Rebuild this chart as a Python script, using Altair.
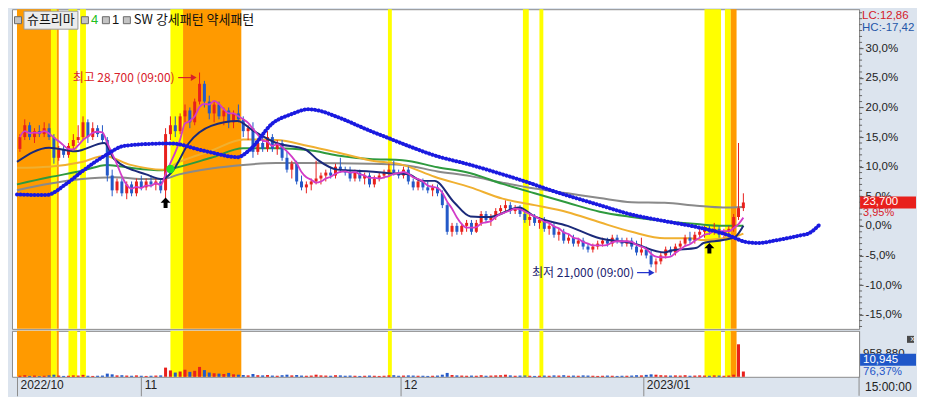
import altair as alt
import pandas as pd

# ---------------- data (percent vs. base price 22,800) ----------------
opens = [
    13.0, 15.0, 17.0, 15.0, 16.0, 15.5, 16.5, 15.0, 11.5, 13.0,
    12.0, 13.5, 14.5, 15.0, 17.5, 15.0, 16.5, 15.5, 14.5, 8.5,
    6.0, 7.5, 5.5, 7.0, 5.5, 7.5, 6.5, 7.5, 7.0, 7.5,
    6.0, 15.5, 17.0, 16.0, 18.5, 19.5, 17.5, 21.0, 24.0, 21.0,
    19.0, 20.5, 18.5, 19.5, 17.5, 19.0, 18.0, 16.0, 16.5, 12.5,
    14.0, 13.0, 15.0, 13.0, 14.0, 11.5, 9.5, 10.5, 7.5, 6.5,
    7.0, 7.5, 8.0, 8.5, 9.0, 8.5, 10.0, 9.5, 9.0, 8.0,
    9.0, 8.0, 8.5, 7.0, 8.0, 8.5, 9.0, 9.5, 9.0, 8.5,
    9.5, 7.5, 6.5, 7.5, 6.5, 6.0, 6.5, 5.5, 3.5, -1.0,
    0.0, -1.0, 0.0, 0.5, -1.0, 0.5, 2.0, 1.0, 1.5, 2.5,
    3.0, 3.5, 2.5, 3.0, 2.0, 1.0, 1.5, 0.5, 1.0, -0.5,
    0.0, -1.5, -1.0, -2.5, -2.0, -3.0, -2.5, -3.5, -4.0, -3.5,
    -3.0, -2.5, -3.0, -2.0, -2.5, -3.0, -2.5, -3.5, -4.5, -4.0,
    -5.0, -6.5, -6.0, -5.0, -4.0, -4.5, -3.5, -3.0, -2.0, -2.5,
    -1.5, -1.0, -0.5, -1.0, -0.5, -1.5, -1.0, -0.5, 1.5, 3.0,
]
highs = [
    15.5, 18.0, 17.5, 16.5, 17.0, 17.5, 17.3, 15.5, 13.5, 13.5,
    14.0, 15.5, 17.0, 18.5, 18.0, 17.5, 17.0, 17.0, 15.0, 9.5,
    8.0, 8.0, 7.5, 7.5, 8.0, 8.5, 8.0, 8.5, 8.0, 8.0,
    16.5, 18.5, 18.5, 19.0, 20.5, 20.0, 21.5, 25.9, 24.5, 22.0,
    21.0, 21.0, 20.0, 20.0, 19.5, 20.5, 18.5, 17.0, 17.5, 14.5,
    15.5, 16.0, 15.5, 14.5, 14.5, 12.5, 11.0, 11.0, 8.5, 7.5,
    8.0, 11.0, 9.0, 9.5, 10.0, 10.5, 11.5, 10.0, 10.0, 9.5,
    9.5, 9.0, 9.0, 8.5, 9.0, 9.5, 10.5, 11.0, 9.5, 10.0,
    10.0, 8.0, 8.0, 8.0, 7.5, 7.0, 7.0, 6.0, 4.0, 0.5,
    0.5, 0.5, 1.0, 1.0, 1.0, 2.5, 2.5, 2.0, 3.0, 3.5,
    4.3, 4.0, 3.5, 3.5, 2.5, 2.0, 2.0, 1.5, 1.5, 0.5,
    0.5, -0.5, -0.5, -1.5, -1.5, -2.0, -2.0, -3.0, -3.0, -2.5,
    -2.0, -2.0, -1.5, -1.5, -2.0, -2.0, -2.0, -2.5, -2.0, -3.5,
    -4.0, -5.5, -4.5, -3.5, -3.5, -3.0, -2.5, -1.5, -1.0, -1.0,
    -0.5, 0.0, 0.0, 0.5, 0.0, -0.5, 0.0, 2.0, 14.0, 5.5,
]
lows = [
    12.5, 14.5, 14.5, 14.0, 15.0, 15.0, 14.5, 10.5, 11.0, 11.5,
    11.5, 13.0, 14.0, 14.5, 14.0, 14.5, 15.0, 14.0, 7.5, 5.0,
    5.5, 5.0, 4.5, 5.0, 5.0, 6.0, 6.0, 6.5, 6.0, 5.5,
    4.5, 14.5, 15.0, 15.5, 17.5, 16.5, 17.0, 20.5, 20.0, 18.0,
    17.5, 18.0, 17.0, 16.5, 16.5, 17.5, 15.0, 14.5, 11.5, 12.0,
    12.5, 12.5, 12.5, 12.0, 11.0, 9.0, 8.0, 7.0, 6.0, 5.5,
    6.0, 7.0, 7.0, 7.5, 8.0, 8.0, 9.0, 8.5, 7.5, 7.5,
    7.5, 7.0, 6.5, 6.5, 7.5, 8.0, 8.5, 8.5, 8.0, 8.0,
    7.0, 6.0, 6.0, 6.0, 5.5, 5.0, 5.0, 3.0, -1.5, -1.8,
    -1.5, -1.5, -1.0, -1.5, -1.2, 0.0, 0.5, 0.0, 1.0, 2.0,
    2.5, 2.0, 2.0, 1.5, 0.5, 0.0, 0.0, -0.5, -1.0, -1.5,
    -2.0, -2.5, -3.0, -3.0, -3.5, -3.5, -4.0, -4.5, -4.5, -4.0,
    -3.5, -3.5, -3.5, -3.0, -3.5, -3.5, -4.0, -5.0, -5.0, -5.5,
    -7.0, -7.9, -6.5, -5.5, -5.0, -5.0, -4.0, -3.5, -3.0, -3.0,
    -2.0, -2.0, -1.5, -1.5, -2.0, -2.0, -1.5, -1.0, 1.0, 2.5,
]
closes = [
    15.0, 17.0, 15.0, 16.0, 15.5, 16.5, 15.0, 11.5, 13.0, 12.0,
    13.5, 14.5, 15.0, 17.5, 15.0, 16.5, 15.5, 14.5, 8.5, 6.0,
    7.5, 5.5, 7.0, 5.5, 7.5, 6.5, 7.5, 7.0, 7.5, 6.0,
    15.5, 17.0, 16.0, 18.5, 19.5, 17.5, 21.0, 24.0, 21.0, 19.0,
    20.5, 18.5, 19.5, 17.5, 19.0, 18.0, 16.0, 16.5, 12.5, 14.0,
    13.0, 15.0, 13.0, 14.0, 11.5, 9.5, 10.5, 7.5, 6.5, 7.0,
    7.5, 8.0, 8.5, 9.0, 8.5, 10.0, 9.5, 9.0, 8.0, 9.0,
    8.0, 8.5, 7.0, 8.0, 8.5, 9.0, 9.5, 9.0, 8.5, 9.5,
    7.5, 6.5, 7.5, 6.5, 6.0, 6.5, 5.5, 3.5, -1.0, 0.0,
    -1.0, 0.0, 0.5, -1.0, 0.5, 2.0, 1.0, 1.5, 2.5, 3.0,
    3.5, 2.5, 3.0, 2.0, 1.0, 1.5, 0.5, 1.0, -0.5, 0.0,
    -1.5, -1.0, -2.5, -2.0, -3.0, -2.5, -3.5, -4.0, -3.5, -3.0,
    -2.5, -3.0, -2.0, -2.5, -3.0, -2.5, -3.5, -4.5, -4.0, -5.0,
    -6.5, -6.0, -5.0, -4.0, -4.5, -3.5, -3.0, -2.0, -2.5, -1.5,
    -1.0, -0.5, -1.0, -0.5, -1.5, -1.0, -0.5, 1.5, 3.0, 3.95,
]
volumes = [  # thousand shares
    30, 45, 25, 35, 20, 30, 40, 60, 35, 25,
    30, 40, 35, 55, 30, 25, 30, 35, 90, 70,
    40, 45, 35, 30, 40, 30, 25, 30, 35, 40,
    260, 180, 120, 150, 200, 140, 170, 280, 190, 120,
    100, 90, 80, 110, 70, 60, 50, 40, 80, 45,
    40, 50, 35, 30, 45, 60, 40, 50, 35, 30,
    35, 60, 40, 35, 30, 45, 40, 30, 35, 30,
    25, 30, 35, 30, 25, 30, 40, 45, 30, 35,
    40, 35, 30, 30, 25, 30, 35, 60, 110, 50,
    40, 35, 30, 35, 30, 45, 30, 35, 40, 45,
    60, 40, 30, 35, 40, 30, 25, 30, 35, 30,
    40, 35, 45, 30, 35, 30, 40, 35, 30, 25,
    30, 35, 30, 25, 30, 30, 35, 45, 40, 55,
    70, 60, 45, 40, 35, 40, 35, 45, 30, 35,
    40, 35, 30, 40, 35, 30, 35, 60, 920, 150,
]

# moving averages (bar index, percent)
navy_i = [-0.6, 6, 11.4, 17.4, 19.4, 26, 29.4, 31.4, 34.8, 39.4, 44.8, 48, 52.8, 58.8, 61.4, 65.4,
          72, 76, 80, 82.8, 85.4, 89.4, 92.8, 96.8, 102.8, 106, 112.8, 119.4, 126, 132.8, 134,
          139.4, 140.8, 144.8, 147.4, 149]
navy_v = [10.8, 13.2, 12.6, 14.0, 11.3, 8.7, 7.9, 9.2, 14.0, 16.9, 17.7, 16.1, 14.0, 12.9, 11.1, 9.5,
          9.2, 8.9, 8.7, 7.6, 7.6, 4.0, 1.6, 1.5, 3.1, 1.6, 0.0, -2.1, -2.9, -4.5, -4.2,
          -3.7, -2.9, -2.4, -1.8, 0.0]
orange_i = [-0.6, 6, 12.8, 17.4, 22.8, 29.4, 32.8, 39.4, 46, 52.8, 59.4, 65.4, 72, 78.8, 85.4,
            92.8, 99.4, 106, 112.8, 119.4, 126, 132.8, 138, 140.8, 144.8, 147.4, 149]
orange_v = [9.8, 10.0, 10.8, 11.8, 10.3, 9.5, 10.8, 12.7, 14.6, 14.5, 13.5, 12.4, 11.1, 10.3, 8.3,
            6.5, 4.6, 3.5, 2.3, 0.6, -1.0, -2.1, -2.1, -2.4, -2.1, -1.8, -1.3]
green_i = [-0.6, 6, 12.8, 18, 22.8, 29.4, 31.4, 39.4, 46, 52.8, 59.4, 65.4, 72, 78.8, 86, 92.8,
           99.4, 106, 112.8, 119.4, 126, 132.8, 139.4, 144.8, 149]
green_v = [7.0, 8.2, 9.3, 10.3, 9.8, 9.4, 9.7, 11.5, 13.1, 13.1, 12.8, 11.9, 11.3, 11.1, 9.9, 8.9,
           7.1, 5.5, 3.9, 2.4, 1.5, 0.8, 0.3, 0.0, 0.0]
gray_i = [-0.6, 6, 12.8, 19.4, 26, 29.4, 32.8, 39.4, 46, 52.8, 59.4, 72, 78.8, 86, 92.8, 99.4, 106,
          112.8, 119.4, 126, 132.8, 139.4, 144.8, 149]
gray_v = [6.0, 7.1, 7.9, 8.2, 7.9, 7.9, 8.7, 9.7, 10.3, 10.6, 10.6, 10.5, 10.3, 9.2, 8.4, 7.3, 6.3,
          5.5, 4.7, 4.0, 3.9, 3.4, 3.1, 3.2]
blue_i = [-0.6, 5.4, 9.4, 12.8, 18, 21.4, 29.4, 31.4, 36.8, 39.4, 44.8, 47.4, 52, 56, 59.4, 61.4,
          65.4, 72, 76, 80, 85.4, 92.8, 99.4, 104.8, 109.4, 119.4, 126, 132.8, 139.4, 146, 149.4,
          152, 156, 160.8, 162.4, 164.8]
blue_v = [5.3, 5.2, 7.0, 9.2, 12.1, 13.5, 13.9, 13.9, 12.9, 12.4, 11.6, 12.9, 17.3, 18.9, 19.7, 19.5,
          18.4, 16.1, 14.8, 13.5, 11.9, 10.3, 8.7, 7.3, 6.0, 3.5, 1.9, 0.8, -0.2, -1.6, -2.7,
          -2.9, -2.4, -1.6, -1.3, 0.3]

# pattern-signal bands (bar index)
band_start = [-0.6, 6.4, 7.6, 10.0, 12.4, 31.0, 33.6, 75.8, 103.6, 107.0, 141.0, 145.2, 146.4]
band_end = [6.4, 7.6, 8.0, 11.8, 13.6, 33.6, 45.6, 76.6, 104.8, 107.8, 144.4, 146.4, 147.6]
band_kind = ["orange", "yellow", "orange", "yellow", "yellow", "yellow", "orange", "yellow",
             "yellow", "yellow", "yellow", "yellow", "orange"]

signal_i = [30, 142]
signal_v = [3.9, -3.8]
cross_i = [31]
cross_v = [9.6]

hi_i, hi_v, hi_label = [37], [25.9], ["최고 28,700 (09:00)"]
lo_i, lo_v, lo_label = [131], [-7.9], ["최저 21,000 (09:00)"]

month_pos = [-0.6, 25, 78.4, 128.4]
month_labels = ["2022/10", "11", "12", "2023/01"]
y_ticks = [-15, -10, -5, 0, 5, 10, 15, 20, 25, 30]

last_price = ["23,700"]
last_pct = ["3,95%"]
lc_text, hc_text = "LC:12,86", "HC:-17,42"
vol_max_text, vol_last_text, vol_pct_text = "958,880", "10,945", "76,37%"
time_text = "15:00:00"

# ---------------- styling ----------------
W, H1, H2 = 848, 320, 46
FONT = "Liberation Sans Narrow, Liberation Sans, Noto Sans CJK KR, sans-serif"
KFONT = "Noto Sans CJK KR, Liberation Sans, sans-serif"
RED, BLUE = "#e8201c", "#2459c8"
NAVY, BLUE_T = "#1b2a7a", "#1a1ae0"
ORANGE_MA, GREEN_MA, GRAY_MA, PINK = "#f0b030", "#2e9a3e", "#8a8a8a", "#d23cc8"
BAND_OR, BAND_YE = "#ff9a00", "#ffff00"
BG = "#dce4ee"

bars = pd.DataFrame({"i": list(range(len(closes))), "open": opens, "high": highs,
                     "low": lows, "close": closes, "volume": volumes})
bands = pd.DataFrame({"start": band_start, "end": band_end, "kind": band_kind})

xs = alt.Scale(domain=[-0.6, 171.8], nice=False, zero=False)
ys = alt.Scale(domain=[-17.4, 36.6], nice=False, zero=False)
vs = alt.Scale(domain=[0, 1300], nice=False, zero=True)

ylabel = ("(datum.value < 0 ? '-' : '') + replace(format(abs(datum.value), '.1f'), '.', ',') + '%'")
yax = alt.Axis(orient="right", values=y_ticks, labelExpr=ylabel, tickSize=4, tickColor="#555",
               domainColor="#8c8c8c", labelColor="#222", labelFont=FONT, labelFontSize=11.5,
               labelPadding=2, grid=False, title=None)


def X(f):
    return alt.X(f"{f}:Q", scale=xs, axis=None, title=None)


def Y(f):
    return alt.Y(f"{f}:Q", scale=ys, axis=yax, title=None)


ccol = alt.condition("datum.close >= datum.open", alt.value(RED), alt.value(BLUE))
bcol = alt.condition("datum.kind == 'orange'", alt.value(BAND_OR), alt.value(BAND_YE))


def ma_line(ii, vv, color, width):
    df = pd.DataFrame({"i": ii, "v": vv})
    return alt.Chart(df).mark_line(color=color, strokeWidth=width, interpolate="monotone").encode(
        x=X("i"), y=Y("v"))


one = pd.DataFrame({"k": [0]})

bands_main = alt.Chart(bands).mark_rect().encode(
    x=X("start"), x2="end", y=alt.value(0), y2=alt.value(H1), color=bcol)

wick = alt.Chart(bars).mark_rule(strokeWidth=1).encode(x=X("i"), y=Y("low"), y2="high", color=ccol)
body = alt.Chart(bars).mark_bar(size=3).encode(x=X("i"), y=Y("open"), y2="close", color=ccol)
pink = alt.Chart(bars).transform_window(
    ma5="mean(close)", frame=[-4, 0], sort=[alt.SortField("i")]
).mark_line(color=PINK, strokeWidth=1.8, interpolate="monotone").encode(x=X("i"), y=Y("ma5"))

blue_df = pd.DataFrame({"i": blue_i, "v": blue_v})
blue_line = alt.Chart(blue_df).mark_line(color=BLUE_T, strokeWidth=1.8, interpolate="monotone").encode(
    x=X("i"), y=Y("v"))
blue_dots = alt.Chart(blue_df).mark_line(color=BLUE_T, strokeWidth=4.0, strokeDash=[0.1, 3.4],
                                         strokeCap="round", interpolate="monotone").encode(x=X("i"), y=Y("v"))

cross = alt.Chart(pd.DataFrame({"i": cross_i, "v": cross_v})).mark_circle(
    size=70, color="#22e022", opacity=1).encode(x=X("i"), y=Y("v"))
ARROW = "M0,-1L0.95,0L0.38,0L0.38,1L-0.38,1L-0.38,0L-0.95,0Z"
signals = alt.Chart(pd.DataFrame({"i": signal_i, "v": signal_v})).mark_point(
    shape=ARROW, filled=True, color="black", opacity=1, size=110).encode(x=X("i"), y=Y("v"))

hi_df = pd.DataFrame({"i": hi_i, "v": hi_v, "label": hi_label})
lo_df = pd.DataFrame({"i": lo_i, "v": lo_v, "label": lo_label})
hi_text = alt.Chart(hi_df).mark_text(align="right", baseline="middle", dx=-25, dy=5, color="#d8202a",
                                     font=KFONT, fontSize=12).encode(x=X("i"), y=Y("v"), text="label:N")
hi_arrow = alt.Chart(hi_df).transform_calculate(a0="datum.i - 4.4", a1="datum.i - 1.2", ay="datum.v - 0.85")
hi_rule = hi_arrow.mark_rule(color="#d8202a", strokeWidth=1.2).encode(x=X("a0"), x2="a1", y=Y("ay"))
hi_head = hi_arrow.mark_point(shape="triangle-right", filled=True, size=45, color="#d8202a",
                              opacity=1).encode(x=X("a1"), y=Y("ay"))
lo_text = alt.Chart(lo_df).mark_text(align="right", baseline="middle", dx=-22, dy=0, color="#1c2470",
                                     font=KFONT, fontSize=12).encode(x=X("i"), y=Y("v"), text="label:N")
lo_arrow = alt.Chart(lo_df).transform_calculate(a0="datum.i - 3.9", a1="datum.i - 0.9")
lo_rule = lo_arrow.mark_rule(color="#2233cc", strokeWidth=1.2).encode(x=X("a0"), x2="a1", y=Y("v"))
lo_head = lo_arrow.mark_point(shape="triangle-right", filled=True, size=45, color="#2233cc",
                              opacity=1).encode(x=X("a1"), y=Y("v"))

minor = alt.Chart(pd.DataFrame({"t": list(range(-17, 37))})).mark_rule(color="#666").encode(
    x=alt.value(W), x2=alt.value(W + 3), y=Y("t"))

last_df = pd.DataFrame({"v": [closes[-1]], "p": last_price, "q": last_pct})
price_box = alt.Chart(last_df).mark_tick(orient="horizontal", size=56, thickness=12, color=RED,
                                         opacity=1).encode(x=alt.value(W + 29), y=Y("v"))
price_txt = alt.Chart(last_df).mark_text(align="left", baseline="middle", color="white", font=FONT,
                                         fontSize=11.5).encode(x=alt.value(W + 4), y=Y("v"), text="p:N")
pct_txt = alt.Chart(last_df).mark_text(align="left", baseline="middle", dy=11, color="#d8202a", font=FONT,
                                       fontSize=11).encode(x=alt.value(W + 4), y=Y("v"), text="q:N")


def label(txt, x, y, color="#111", size=11.5, font=FONT, align="left"):
    return alt.Chart(one).mark_text(align=align, baseline="middle", color=color, fontSize=size,
                                    font=font).encode(x=alt.value(x), y=alt.value(y), text=alt.value(txt))


def square(x, y, s=7):
    return alt.Chart(one).mark_rect(fill="#c4c4c4", stroke="#6a6a6a", strokeWidth=1).encode(
        x=alt.value(x - s / 2), x2=alt.value(x + s / 2), y=alt.value(y - s / 2), y2=alt.value(y + s / 2))


legend_box = alt.Chart(one).mark_rect(fill="#ececec", stroke="#9a9a9a", strokeWidth=1).encode(
    x=alt.value(12), x2=alt.value(66), y=alt.value(2), y2=alt.value(20))

main = alt.layer(
    bands_main,
    ma_line(gray_i, gray_v, GRAY_MA, 2),
    ma_line(green_i, green_v, GREEN_MA, 2),
    ma_line(orange_i, orange_v, ORANGE_MA, 2),
    wick, body,
    ma_line(navy_i, navy_v, NAVY, 2),
    pink,
    blue_line, blue_dots,
    cross, signals,
    hi_text, hi_rule, hi_head, lo_text, lo_rule, lo_head,
    minor, price_box, price_txt, pct_txt,
    label(lc_text, W + 3, 7, "#d4202a", 11.5),
    label(hc_text, W + 3, 19, "#2456a8", 11.5),
    square(6, 11), legend_box, label("슈프리마", 15, 11, "#111", 13, KFONT),
    square(73, 11), label("4", 79, 11, "#22c022", 13),
    square(94, 11), label("1", 100, 11, "#111", 13),
    square(115, 11), label("SW 강세패턴  약세패턴", 122, 11, "#111", 13, KFONT),
).properties(width=W, height=H1)

# ---------------- volume pane ----------------
mexpr = " : ".join(f"abs(datum.value - ({p})) < 0.01 ? '{l}'" for p, l in zip(month_pos, month_labels)) + " : ''"
xax = alt.Axis(values=month_pos, labelExpr=mexpr, tickSize=19, tickColor="#8c8c8c", domain=False,
               labelAlign="left", labelBaseline="top", labelPadding=-16, labelOffset=3, labelFont=FONT,
               labelFontSize=12, labelColor="#222", grid=False, labelFlush=False, labelOverlap=False,
               title=None)
vax = alt.Axis(orient="right", labels=False, ticks=False, domainColor="#8c8c8c", grid=False, title=None)

bands_vol = alt.Chart(bands).mark_rect().encode(
    x=alt.X("start:Q", scale=xs, axis=xax, title=None), x2="end", y=alt.value(0), y2=alt.value(H2),
    color=bcol)
vbars = alt.Chart(bars).mark_bar(size=3).encode(
    x=alt.X("i:Q", scale=xs, axis=xax, title=None),
    y=alt.Y("volume:Q", scale=vs, axis=vax, title=None), color=ccol)

xicon = alt.Chart(one).mark_rect(fill="#4a4a4a").encode(
    x=alt.value(W + 48), x2=alt.value(W + 55), y=alt.value(5), y2=alt.value(12))
vol_box = alt.Chart(one).mark_rect(fill="#1f57c8").encode(
    x=alt.value(W + 1), x2=alt.value(W + 57), y=alt.value(23), y2=alt.value(35))
sep = alt.Chart(one).mark_rule(color="#8c8c8c").encode(
    x=alt.value(W), y=alt.value(H2), y2=alt.value(H2 + 19))

vol = alt.layer(
    bands_vol, vbars, sep, xicon,
    label("x", W + 51.5, 8.5, "white", 8),
    label(vol_max_text, W + 4, 23, "#222", 11.5),
    vol_box,
    label(vol_last_text, W + 4, 29, "white", 11.5),
    label(vol_pct_text, W + 4, 41, "#1f57c8", 11.5),
    label(time_text, W + 6, H2 + 10, "#222", 12),
).properties(width=W, height=H2)

chart = alt.vconcat(main, vol, spacing=0).properties(padding=0).configure(
    background=BG, font=FONT
).configure_view(fill="white", stroke="#8c8c8c", strokeWidth=1)

chart.save("out.html", embed_options={"renderer": "svg", "actions": False})
